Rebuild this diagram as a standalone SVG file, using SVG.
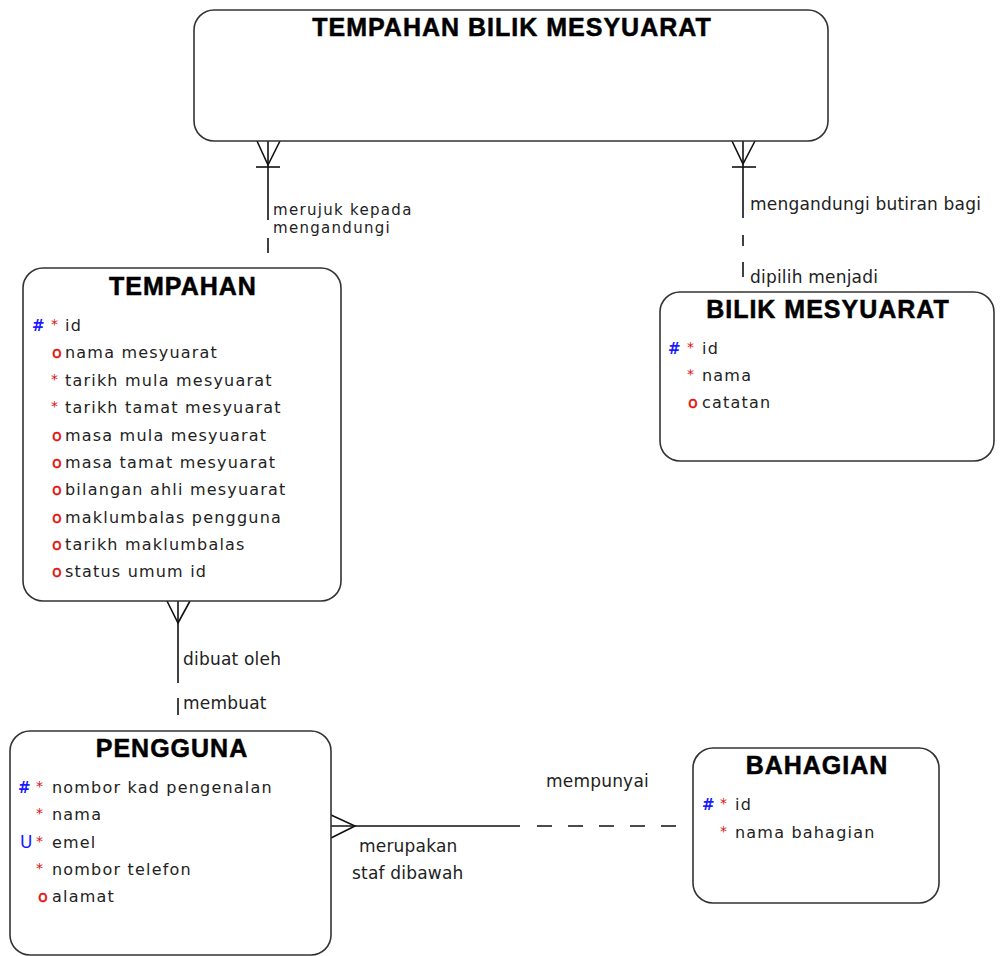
<svg xmlns="http://www.w3.org/2000/svg" width="1000" height="956" viewBox="0 0 1000 956">
<style>
.box{fill:#fff;stroke:#333;stroke-width:1.6}
.title{font-family:"Liberation Sans",Arial,sans-serif;font-weight:bold;font-size:25px;letter-spacing:1px;fill:#000;stroke:#000;stroke-width:0.5;text-anchor:middle}
.attr{font-family:"DejaVu Sans",Verdana,sans-serif;font-size:16px;letter-spacing:1.2px;fill:#222}
.pk{font-family:"DejaVu Sans",Verdana,sans-serif;font-size:15px;font-weight:bold;fill:#1a1aff}
.uk{font-family:"DejaVu Sans",Verdana,sans-serif;font-size:17px;fill:#1a1aff}
.req{font-family:"DejaVu Sans",Verdana,sans-serif;font-size:14px;fill:#e01010}
.opt{font-family:"DejaVu Sans",Verdana,sans-serif;font-size:16px;fill:#e01010;stroke:#e01010;stroke-width:0.4}
.lbl{font-family:"DejaVu Sans",Verdana,sans-serif;font-size:17px;letter-spacing:0.2px;fill:#222}
.lbs{font-family:"DejaVu Sans",Verdana,sans-serif;font-size:15px;letter-spacing:1.3px;fill:#222}
.ln{stroke:#111;stroke-width:1.6;fill:none}
</style>
<g id="connectors">
  <g id="c1">
    <line class="ln" x1="268" y1="141" x2="268" y2="220"/>
    <line class="ln" x1="268" y1="238" x2="268" y2="253"/>
    <polyline class="ln" points="257,141 268,165 280,141"/>
    <line class="ln" x1="256" y1="167" x2="280" y2="167"/>
    <text class="lbs" x="273" y="215">merujuk kepada</text>
    <text class="lbs" x="273" y="233">mengandungi</text>
  </g>
  <g id="c2">
    <line class="ln" x1="743" y1="141" x2="743" y2="218"/>
    <line class="ln" x1="743" y1="235" x2="743" y2="246"/>
    <line class="ln" x1="743" y1="262" x2="743" y2="277"/>
    <polyline class="ln" points="732,141 743,164 755,141"/>
    <line class="ln" x1="732" y1="167" x2="756" y2="167"/>
    <text class="lbl" x="750" y="210">mengandungi butiran bagi</text>
    <text class="lbl" x="750" y="283">dipilih menjadi</text>
  </g>
  <g id="c3">
    <line class="ln" x1="178" y1="601" x2="178" y2="683"/>
    <line class="ln" x1="178" y1="698" x2="178" y2="715"/>
    <polyline class="ln" points="167,601 178,623 190,601"/>
    <text class="lbl" x="183" y="665">dibuat oleh</text>
    <text class="lbl" x="183" y="709">membuat</text>
  </g>
  <g id="c4">
    <line class="ln" x1="331" y1="826" x2="520" y2="826"/>
    <line class="ln" x1="537" y1="826" x2="680" y2="826" stroke-dasharray="15,16"/>
    <polyline class="ln" points="331,815 355,826 331,838"/>
    <text class="lbl" x="546" y="787">mempunyai</text>
    <text class="lbl" x="359" y="852">merupakan</text>
    <text class="lbl" x="352" y="879">staf dibawah</text>
  </g>
</g>
<g id="tempahan_bilik_mesyuarat">
  <rect class="box" x="194" y="10" width="634" height="131" rx="20"/>
  <text class="title" x="512" y="36">TEMPAHAN BILIK MESYUARAT</text>
</g>
<g id="tempahan">
  <rect class="box" x="23" y="268" width="318" height="333" rx="20"/>
  <text class="title" x="183" y="295">TEMPAHAN</text>
  <text class="pk" x="32" y="331">#</text><text class="req" x="51" y="329">*</text><text class="attr" x="65" y="331">id</text>
  <text class="opt" x="52" y="358">o</text><text class="attr" x="65" y="358">nama mesyuarat</text>
  <text class="req" x="51" y="384">*</text><text class="attr" x="65" y="386">tarikh mula mesyuarat</text>
  <text class="req" x="51" y="411">*</text><text class="attr" x="65" y="413">tarikh tamat mesyuarat</text>
  <text class="opt" x="52" y="441">o</text><text class="attr" x="65" y="441">masa mula mesyuarat</text>
  <text class="opt" x="52" y="468">o</text><text class="attr" x="65" y="468">masa tamat mesyuarat</text>
  <text class="opt" x="52" y="495">o</text><text class="attr" x="65" y="495">bilangan ahli mesyuarat</text>
  <text class="opt" x="52" y="523">o</text><text class="attr" x="65" y="523">maklumbalas pengguna</text>
  <text class="opt" x="52" y="550">o</text><text class="attr" x="65" y="550">tarikh maklumbalas</text>
  <text class="opt" x="52" y="577">o</text><text class="attr" x="65" y="577">status umum id</text>
</g>
<g id="bilik_mesyuarat">
  <rect class="box" x="660" y="292" width="334" height="169" rx="20"/>
  <text class="title" x="828" y="318">BILIK MESYUARAT</text>
  <text class="pk" x="668" y="354">#</text><text class="req" x="687" y="352">*</text><text class="attr" x="702" y="354">id</text>
  <text class="req" x="687" y="379">*</text><text class="attr" x="702" y="381">nama</text>
  <text class="opt" x="688" y="408">o</text><text class="attr" x="702" y="408">catatan</text>
</g>
<g id="pengguna">
  <rect class="box" x="10" y="731" width="321" height="224" rx="20"/>
  <text class="title" x="172" y="757">PENGGUNA</text>
  <text class="pk" x="18" y="793">#</text><text class="req" x="36" y="791">*</text><text class="attr" x="52" y="793">nombor kad pengenalan</text>
  <text class="req" x="36" y="818">*</text><text class="attr" x="52" y="820">nama</text>
  <text class="uk" x="20" y="848">U</text><text class="req" x="36" y="846">*</text><text class="attr" x="52" y="848">emel</text>
  <text class="req" x="36" y="873">*</text><text class="attr" x="52" y="875">nombor telefon</text>
  <text class="opt" x="38" y="902">o</text><text class="attr" x="52" y="902">alamat</text>
</g>
<g id="bahagian">
  <rect class="box" x="693" y="748" width="246" height="155" rx="20"/>
  <text class="title" x="817" y="774">BAHAGIAN</text>
  <text class="pk" x="702" y="810">#</text><text class="req" x="720" y="808">*</text><text class="attr" x="735" y="810">id</text>
  <text class="req" x="720" y="836">*</text><text class="attr" x="735" y="838">nama bahagian</text>
</g>
</svg>
